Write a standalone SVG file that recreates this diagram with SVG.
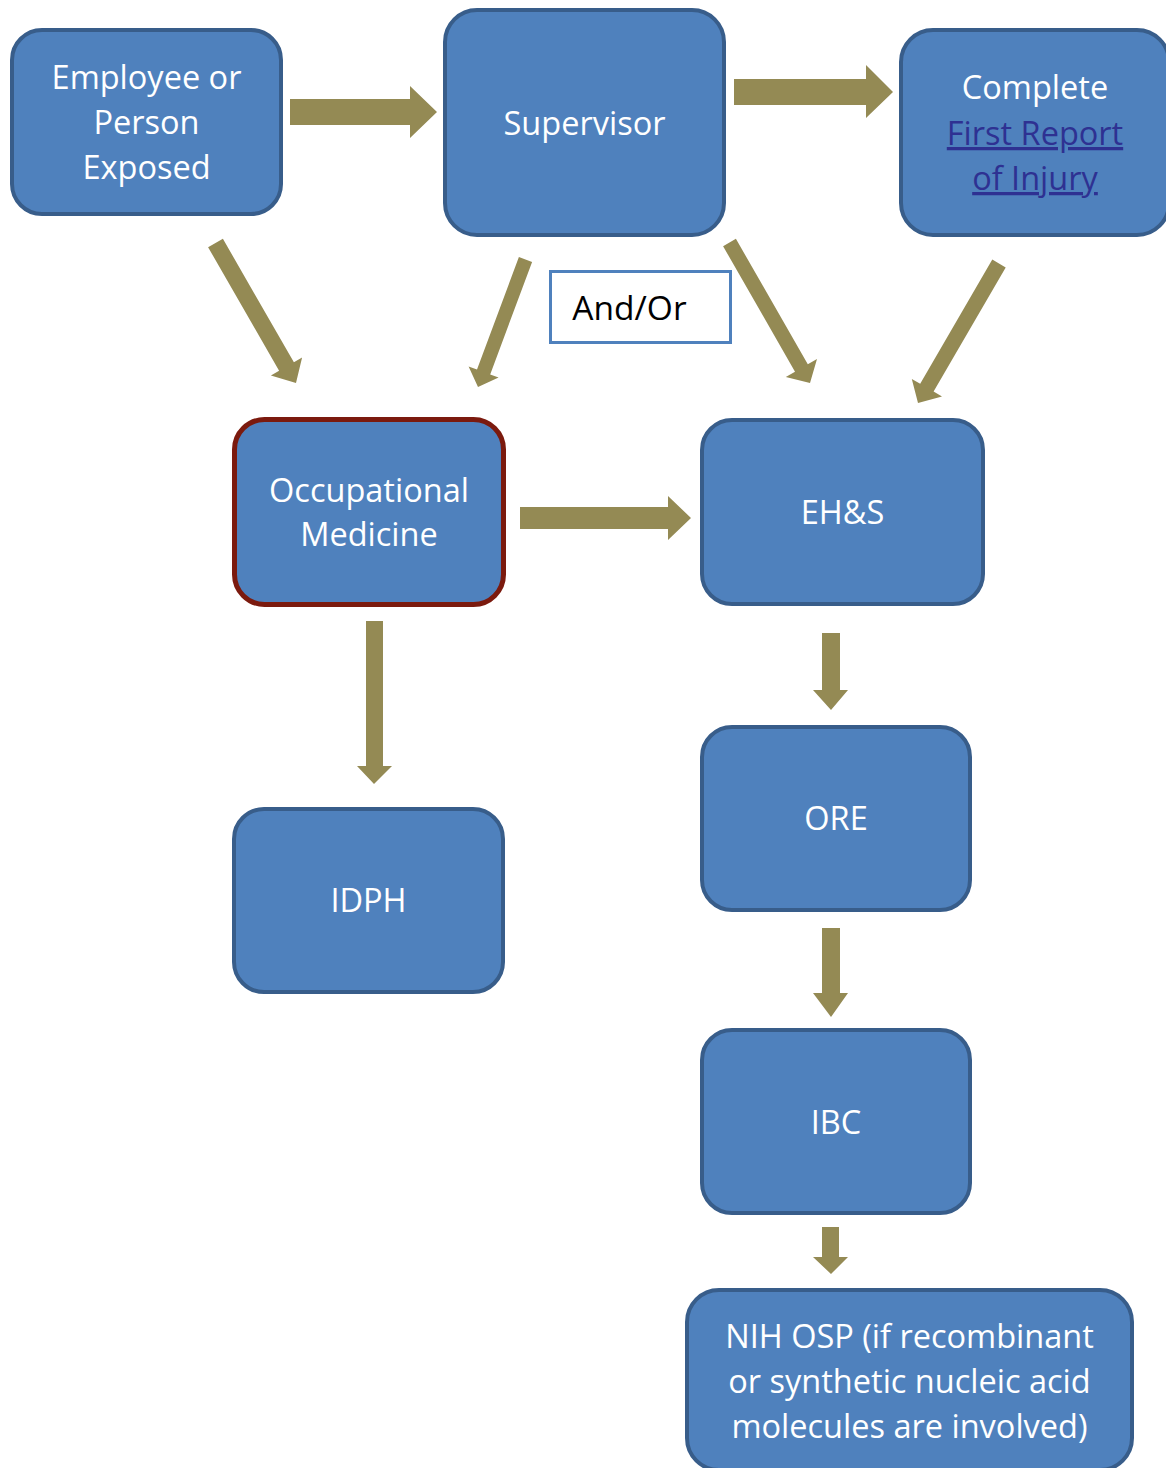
<svg xmlns="http://www.w3.org/2000/svg" width="1166" height="1468" viewBox="0 0 1166 1468">
<style>
.box{fill:#4f81bd;stroke:#385d8a;stroke-width:4}
.red{fill:#4f81bd;stroke:#7b1a0e;stroke-width:5}
.t{font-family:"Open Sans","Liberation Sans",sans-serif;font-size:32.5px;fill:#ffffff;text-anchor:middle}
.link{fill:#2e3192;text-decoration:underline}
.arr{fill:#948a54}
</style>
<rect width="1166" height="1468" fill="#ffffff"/>
<g id="connectors">
<polygon class="arr" points="290,99 410,99 410,86 437,112 410,138 410,125 290,125"/>
<polygon class="arr" points="734,79 866,79 866,65 893,92 866,118 866,105 734,105"/>
<polygon class="arr" points="520,507 668,507 668,496 691,518 668,540 668,529 520,529"/>
<polygon class="arr" points="822,633 840,633 840,690 848,690 831,710 813,690 822,690"/>
<polygon class="arr" points="822,928 840,928 840,993 848,993 831,1017 813,993 822,993"/>
<polygon class="arr" points="822,1227 839,1227 839,1257 848,1257 831,1274 813,1257 822,1257"/>
<polygon class="arr" points="366,621 383,621 383,766 392,766 374,784 357,766 366,766"/>
<polygon class="arr" points="222.9,238.8 293.9,362.3 302.1,357.5 296,383 270.9,375.5 279.1,370.7 208.1,247.2"/>
<polygon class="arr" points="532.1,261.9 490.2,374.4 498.6,377.6 478,387 468.6,366.4 477,369.6 518.9,257.1"/>
<polygon class="arr" points="735.9,238.8 807.8,364.3 817,359.1 810,383 785.8,376.9 795,371.7 723.1,246.2"/>
<polygon class="arr" points="1005.7,267.4 933.6,391.6 942,396.5 918,403 911.8,378.9 920.2,383.8 992.3,259.6"/>
</g>
<g id="employee">
<rect class="box" x="12" y="30" width="269" height="184" rx="30"/>
<text class="t" x="146.5" y="89">Employee or</text>
<text class="t" x="146.5" y="134">Person</text>
<text class="t" x="146.5" y="179">Exposed</text>
</g>
<g id="supervisor">
<rect class="box" x="445" y="10" width="279" height="225" rx="32"/>
<text class="t" x="584.5" y="135">Supervisor</text>
</g>
<g id="complete">
<rect class="box" x="901" y="30" width="268" height="205" rx="32"/>
<text class="t" x="1035" y="99">Complete</text>
<text class="t link" x="1035" y="145">First Report</text>
<text class="t link" x="1035" y="190">of Injury</text>
</g>
<g id="andor">
<rect x="550.5" y="271.5" width="180" height="71" fill="#ffffff" stroke="#4f81bd" stroke-width="3"/>
<text x="629.5" y="320" font-family="Open Sans, Liberation Sans, sans-serif" font-size="33.5" fill="#000000" text-anchor="middle">And/Or</text>
</g>
<g id="occmed">
<rect class="red" x="234.5" y="419.5" width="269" height="185" rx="30"/>
<text class="t" x="369" y="502">Occupational</text>
<text class="t" x="369" y="546">Medicine</text>
</g>
<g id="ehs">
<rect class="box" x="702" y="420" width="281" height="184" rx="30"/>
<text class="t" x="842.5" y="524">EH&amp;S</text>
</g>
<g id="idph">
<rect class="box" x="234" y="809" width="269" height="183" rx="30"/>
<text class="t" x="368.5" y="912">IDPH</text>
</g>
<g id="ore">
<rect class="box" x="702" y="727" width="268" height="183" rx="30"/>
<text class="t" x="836" y="830">ORE</text>
</g>
<g id="ibc">
<rect class="box" x="702" y="1030" width="268" height="183" rx="30"/>
<text class="t" x="836" y="1134">IBC</text>
</g>
<g id="nih">
<rect class="box" x="687" y="1290" width="445" height="180" rx="32"/>
<text class="t" x="909.5" y="1348">NIH OSP (if recombinant</text>
<text class="t" x="909.5" y="1393">or synthetic nucleic acid</text>
<text class="t" x="909.5" y="1438">molecules are involved)</text>
</g>
</svg>
